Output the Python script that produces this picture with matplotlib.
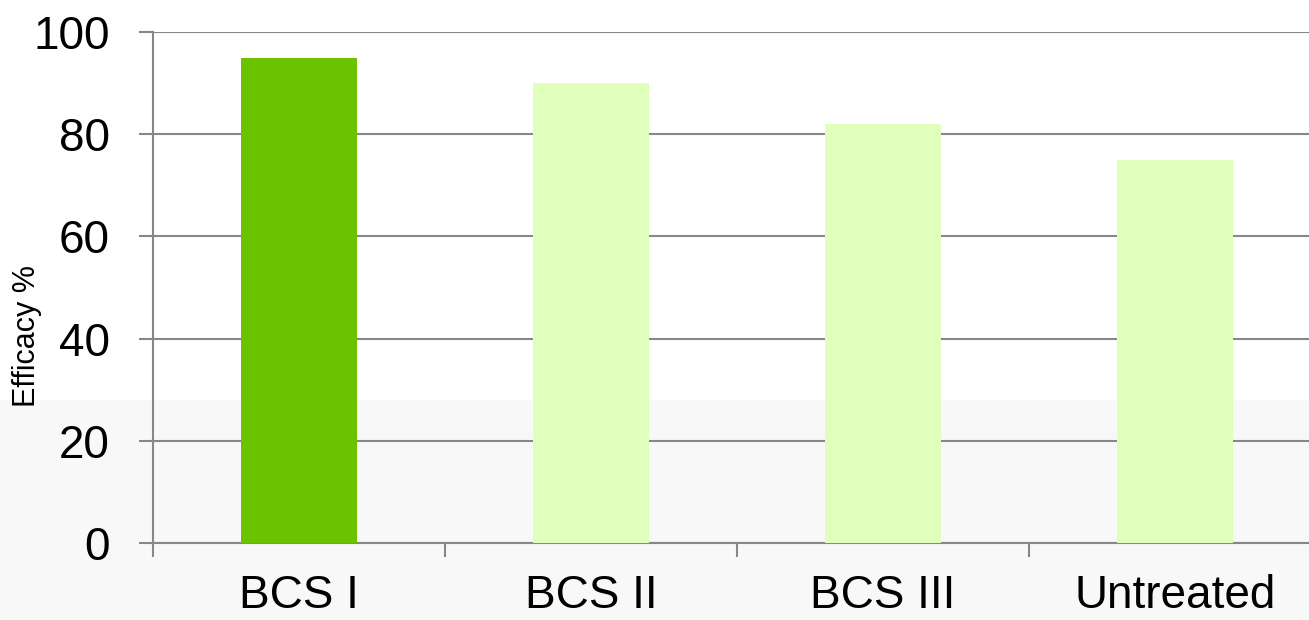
import matplotlib.pyplot as plt
from matplotlib.patches import Rectangle

# Data
categories = ['BCS I', 'BCS II', 'BCS III', 'Untreated']
efficacy = [95, 90, 82, 75]
bar_colors = ['#6bc300', '#e0ffbc', '#e0ffbc', '#e0ffbc']
y_ticks = [0, 20, 40, 60, 80, 100]

plt.rcParams['font.family'] = ['Liberation Sans', 'DejaVu Sans']

fig = plt.figure(figsize=(13.09, 6.2), dpi=100)
fig.patch.set_facecolor('white')

# faint grey band behind the lower part of the slide
fig.patches.append(Rectangle((0, 0), 1, 0.355, transform=fig.transFigure,
                             facecolor='#f8f8f8', edgecolor='none', zorder=-1))

ax = fig.add_axes([0.1169, 0.1242, 0.8923, 0.8242])
ax.set_facecolor('none')
ax.set_zorder(1)

grey = '#878787'
x = range(len(categories))
ax.bar(x, efficacy, width=0.4, color=bar_colors, zorder=3)

ax.set_xlim(-0.5, len(categories) - 0.5)
ax.set_ylim(0, 100)
ax.set_yticks(y_ticks)
ax.yaxis.grid(True, color=grey, linewidth=1.5, zorder=1)
ax.set_axisbelow(True)

# category ticks sit between the bars
ax.set_xticks([i - 0.5 for i in range(len(categories) + 1)], minor=False)
ax.set_xticklabels([])
ax.set_xticks(list(x), minor=True)
ax.set_xticklabels(categories, minor=True, fontsize=33)
ax.tick_params(axis='x', which='major', length=14 / 1.389, width=1.5, color=grey)
ax.tick_params(axis='x', which='minor', length=0, pad=22)
ax.tick_params(axis='y', length=14 / 1.389, width=1.5, color=grey, labelsize=33, pad=21)

for side in ['top', 'right']:
    ax.spines[side].set_visible(False)
for side in ['left', 'bottom']:
    ax.spines[side].set_color(grey)
    ax.spines[side].set_linewidth(1.5)

ax.set_ylabel('Efficacy %', fontsize=22)
ax.yaxis.set_label_coords(-0.095, 0.405)

fig.savefig('out.png', dpi=100)
